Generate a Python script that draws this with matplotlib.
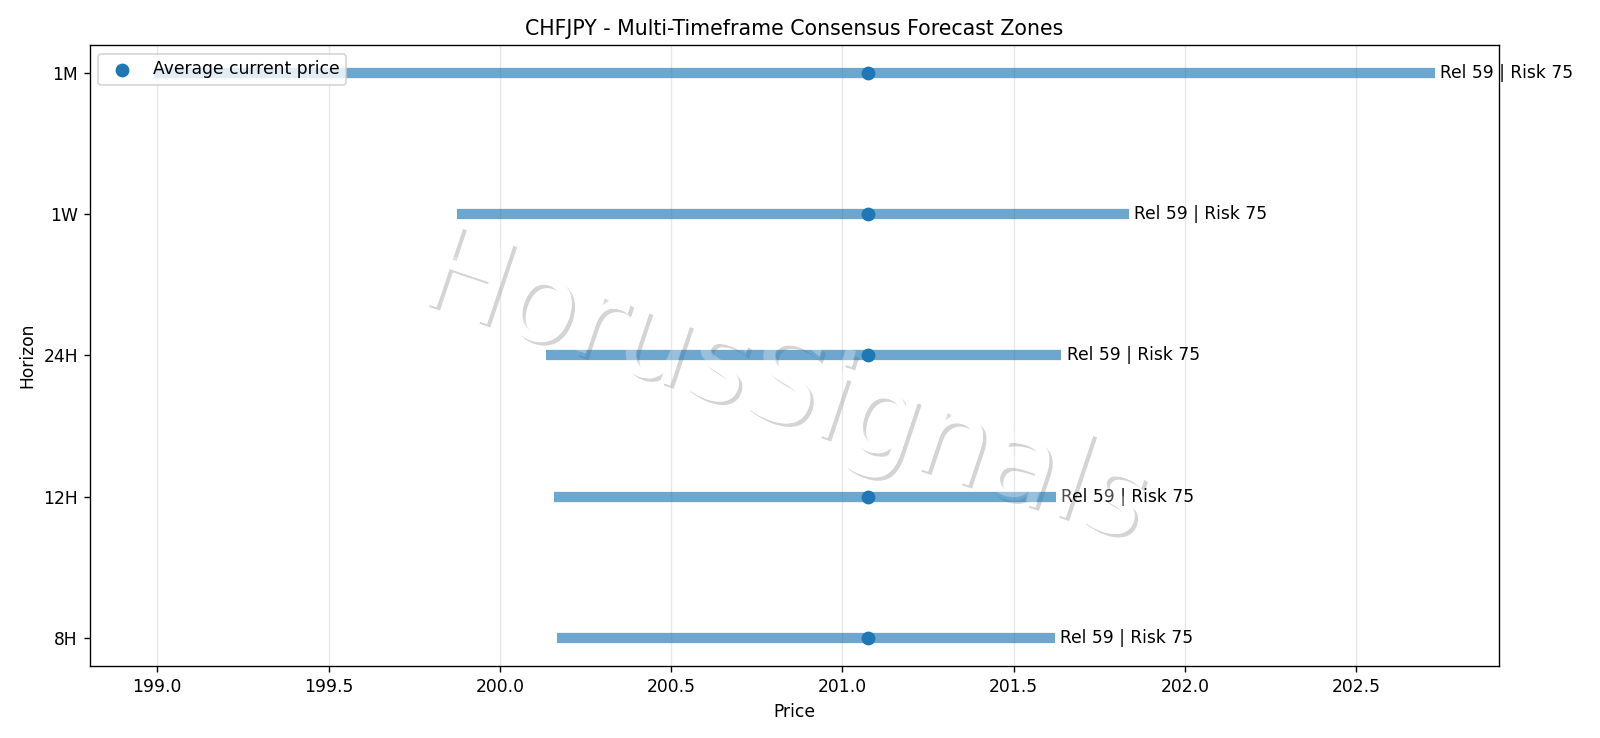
import matplotlib
matplotlib.use('Agg')
import matplotlib.pyplot as plt
import matplotlib.patheffects as pe

symbol = 'CHFJPY'
horizons = ['8H', '12H', '24H', '1W', '1M']
low_prices = [200.168, 200.158, 200.134, 199.876, 198.990]
high_prices = [201.622, 201.625, 201.640, 201.836, 202.731]
current_prices = [201.076, 201.076, 201.076, 201.076, 201.076]
reliability = [59, 59, 59, 59, 59]
risk = [75, 75, 75, 75, 75]


def add_watermark(ax, fig, text='HorusSignals'):
    # solid white letters with a drop shadow behind the zones,
    # then a light white veil over the zones
    kw = dict(fontsize=68, color='white', rotation=-18.5, ha='center', va='center',
              transform=fig.transFigure)
    ax.text(0.490, 0.472, text, zorder=0.8,
            path_effects=[pe.withSimplePatchShadow(offset=(2, -2), shadow_rgbFace='black', alpha=0.17),
                          pe.Normal()], **kw)
    ax.text(0.490, 0.472, text, zorder=5, alpha=0.3, **kw)


def plot_zones():
    fig = plt.figure(figsize=(1600 / 123, 6), dpi=123)
    ax = fig.add_axes([0.0561, 0.0976, 0.8809, 0.8414])
    ys = list(range(len(horizons)))

    add_watermark(ax, fig)

    ax.hlines(ys, low_prices, high_prices, colors='#1f77b4', linewidth=6, alpha=0.65)
    ax.scatter(current_prices, ys, s=50, color='#1f77b4', zorder=3, label='Average current price')
    for y, hi, rel, rk in zip(ys, high_prices, reliability, risk):
        ax.text(hi + 0.015, y, 'Rel %d | Risk %d' % (rel, rk), va='center', fontsize=10)

    ax.set_yticks(ys)
    ax.set_yticklabels(horizons)
    ax.set_xlabel('Price')
    ax.set_ylabel('Horizon')
    ax.set_title('%s - Multi-Timeframe Consensus Forecast Zones' % symbol)
    ax.grid(axis='x', alpha=0.3)
    ax.legend(loc='upper left')
    fig.savefig('out.png', dpi=123)


def main():
    plot_zones()


if __name__ == '__main__':
    main()
